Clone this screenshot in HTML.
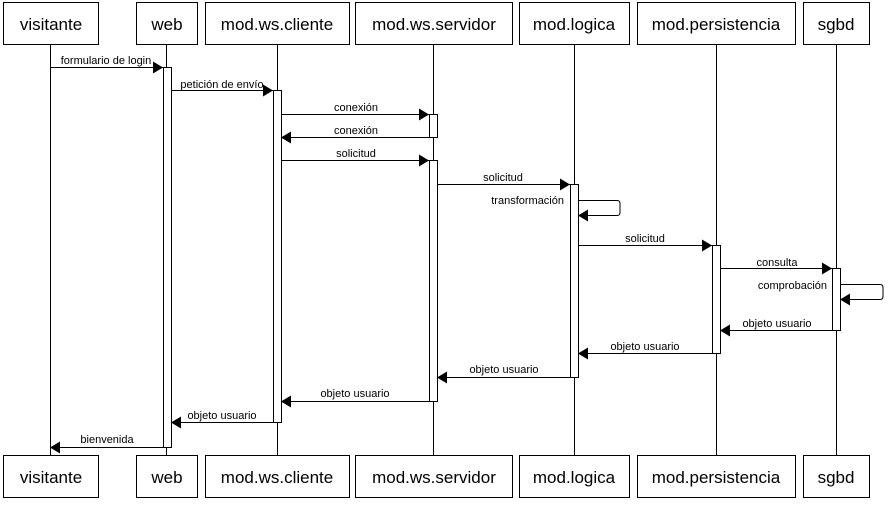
<!DOCTYPE html>
<html><head><meta charset="utf-8"><style>body{margin:0;background:#fff}</style></head><body>
<svg width="889" height="502" xmlns="http://www.w3.org/2000/svg" font-family="Liberation Sans, Arial, sans-serif">
<defs><marker id="a" markerWidth="10" markerHeight="12" refX="10" refY="6" orient="auto" markerUnits="userSpaceOnUse"><path d="M0,0 L10,6 L0,12 Z" fill="#000"/></marker></defs>
<g stroke="#000" stroke-width="1" fill="#fff">
<line x1="50.5" y1="45" x2="50.5" y2="455"/>
<line x1="166.5" y1="45" x2="166.5" y2="455"/>
<line x1="277.5" y1="45" x2="277.5" y2="455"/>
<line x1="433.5" y1="45" x2="433.5" y2="455"/>
<line x1="574.5" y1="45" x2="574.5" y2="455"/>
<line x1="716.5" y1="45" x2="716.5" y2="455"/>
<line x1="836.5" y1="45" x2="836.5" y2="455"/>
<rect x="3.5" y="2.5" width="95" height="42"/><rect x="136.5" y="2.5" width="61" height="42"/><rect x="205.5" y="2.5" width="144" height="42"/><rect x="355.5" y="2.5" width="157" height="42"/><rect x="519.5" y="2.5" width="110" height="42"/><rect x="637.5" y="2.5" width="158" height="42"/><rect x="803.5" y="2.5" width="66" height="42"/>
<rect x="3.5" y="455.5" width="95" height="42"/><rect x="136.5" y="455.5" width="61" height="42"/><rect x="205.5" y="455.5" width="144" height="42"/><rect x="355.5" y="455.5" width="157" height="42"/><rect x="519.5" y="455.5" width="110" height="42"/><rect x="637.5" y="455.5" width="158" height="42"/><rect x="803.5" y="455.5" width="66" height="42"/>
<rect x="163.5" y="67.5" width="8" height="380"/>
<rect x="273.5" y="90.5" width="8" height="332"/>
<rect x="429.5" y="114.5" width="8" height="23"/>
<rect x="429.5" y="160.5" width="8" height="241"/>
<rect x="570.5" y="184.5" width="8" height="193"/>
<rect x="712.5" y="245.5" width="8" height="108"/>
<rect x="832.5" y="268.5" width="8" height="62"/>
</g>
<g stroke="#000" fill="none" marker-end="url(#a)">
<line x1="50" y1="67.5" x2="163" y2="67.5"/>
<line x1="171" y1="90.5" x2="273" y2="90.5"/>
<line x1="281" y1="114.5" x2="429" y2="114.5"/>
<line x1="429" y1="137.5" x2="281" y2="137.5"/>
<line x1="281" y1="160.5" x2="429" y2="160.5"/>
<line x1="437" y1="184.5" x2="570" y2="184.5"/>
<path d="M578,200.5 H617 Q620,200.5 620,203.5 V212.5 Q620,215.5 617,215.5 H578"/>
<line x1="578" y1="245.5" x2="712" y2="245.5"/>
<line x1="720" y1="268.5" x2="832" y2="268.5"/>
<path d="M840,284.5 H880 Q883,284.5 883,287.5 V296.5 Q883,299.5 880,299.5 H840"/>
<line x1="832" y1="330.5" x2="720" y2="330.5"/>
<line x1="712" y1="353.5" x2="578" y2="353.5"/>
<line x1="570" y1="377.5" x2="437" y2="377.5"/>
<line x1="429" y1="401.5" x2="281" y2="401.5"/>
<line x1="273" y1="422.5" x2="171" y2="422.5"/>
<line x1="163" y1="447.5" x2="50" y2="447.5"/>
</g>
<g font-size="17" text-anchor="middle" fill="#000">
<text x="51" y="30">visitante</text><text x="167" y="30">web</text><text x="277" y="30">mod.ws.cliente</text><text x="434" y="30">mod.ws.servidor</text><text x="574" y="30">mod.logica</text><text x="716" y="30">mod.persistencia</text><text x="836" y="30">sgbd</text>
<text x="51" y="483">visitante</text><text x="167" y="483">web</text><text x="277" y="483">mod.ws.cliente</text><text x="434" y="483">mod.ws.servidor</text><text x="574" y="483">mod.logica</text><text x="716" y="483">mod.persistencia</text><text x="836" y="483">sgbd</text>
</g>
<g font-size="11" text-anchor="middle" fill="#000">
<text x="106" y="64">formulario de login</text>
<text x="222" y="88">petición de envío</text>
<text x="356" y="111">conexión</text>
<text x="356" y="134">conexión</text>
<text x="356" y="157">solicitud</text>
<text x="503" y="181">solicitud</text>
<text x="645" y="242">solicitud</text>
<text x="777" y="266">consulta</text>
<text x="777" y="327">objeto usuario</text>
<text x="645" y="350">objeto usuario</text>
<text x="504" y="373">objeto usuario</text>
<text x="355" y="397">objeto usuario</text>
<text x="222" y="419">objeto usuario</text>
<text x="107" y="443">bienvenida</text>
<text x="564" y="204" text-anchor="end">transformación</text>
<text x="827" y="289" text-anchor="end">comprobación</text>
</g>
</svg>
</body></html>
